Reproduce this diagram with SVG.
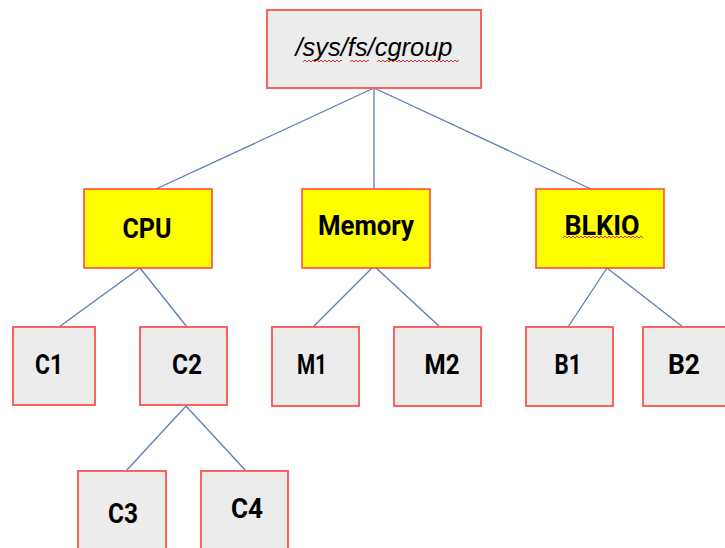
<svg xmlns="http://www.w3.org/2000/svg" width="725" height="548" viewBox="0 0 725 548">
<style>
.g{fill:#ececec;stroke:#ff6060;stroke-width:2}
.y{fill:#ffff00;stroke:#ff4040;stroke-width:1.5}
.t{font-family:Roboto,"Liberation Sans",sans-serif;font-weight:700;font-size:28px;fill:#000;text-anchor:middle}
.r{font-family:"Liberation Sans",Arial,sans-serif;font-style:italic;font-size:26px;fill:#000;text-anchor:middle}
.sq{fill:none;stroke:#e03030;stroke-width:1}
#edges line{stroke:#5b7db5;stroke-width:1.3}
</style>
<g id="edges">
<line x1="374" y1="88" x2="156" y2="189"/>
<line x1="374" y1="88" x2="374" y2="189"/>
<line x1="374" y1="88" x2="591" y2="189"/>
<line x1="140" y1="268" x2="59" y2="327"/>
<line x1="140" y1="268" x2="187" y2="327"/>
<line x1="374" y1="266" x2="313" y2="327"/>
<line x1="374" y1="266" x2="440" y2="327"/>
<line x1="607" y1="268" x2="568" y2="327"/>
<line x1="607" y1="268" x2="683" y2="327"/>
<line x1="186" y1="406" x2="126" y2="471"/>
<line x1="186" y1="406" x2="246" y2="471"/>
</g>
<g id="root">
<rect class="g" x="267" y="10" width="214" height="78"/>
<text class="r" x="374" y="56" textLength="157" lengthAdjust="spacingAndGlyphs">/sys/fs/cgroup</text>
<path class="sq" d="M303 62 l2 -2 l2 2 l2 -2 l2 2 l2 -2 l2 2 l2 -2 l2 2 l2 -2 l2 2 l2 -2 l2 2 l2 -2 l2 2 l2 -2 l2 2 l2 -2 l2 2 l2 -2 l1 1"/>
<path class="sq" d="M350 62 l2 -2 l2 2 l2 -2 l2 2 l2 -2 l2 2 l2 -2 l2 2 l2 -2 l1 1"/>
<path class="sq" d="M377 62 l2 -2 l2 2 l2 -2 l2 2 l2 -2 l2 2 l2 -2 l2 2 l2 -2 l2 2 l2 -2 l2 2 l2 -2 l2 2 l2 -2 l2 2 l2 -2 l2 2 l2 -2 l2 2 l2 -2 l2 2 l2 -2 l2 2 l2 -2 l2 2 l2 -2 l2 2 l2 -2 l2 2 l2 -2 l2 2 l2 -2 l2 2 l2 -2 l2 2 l2 -2 l2 2 l2 -2 l2 2 l2 -2"/>
</g>
<g id="cpu">
<rect class="y" x="84" y="189" width="128" height="79"/>
<text class="t" x="147" y="238" textLength="49" lengthAdjust="spacingAndGlyphs">CPU</text>
</g>
<g id="memory">
<rect class="y" x="302" y="189" width="128" height="79"/>
<text class="t" x="366" y="235" textLength="96" lengthAdjust="spacingAndGlyphs">Memory</text>
</g>
<g id="blkio">
<rect class="y" x="536" y="189" width="128" height="79"/>
<text class="t" x="602" y="235" textLength="75" lengthAdjust="spacingAndGlyphs">BLKIO</text>
<path class="sq" d="M563 238 l2 -2 l2 2 l2 -2 l2 2 l2 -2 l2 2 l2 -2 l2 2 l2 -2 l2 2 l2 -2 l2 2 l2 -2 l2 2 l2 -2 l2 2 l2 -2 l2 2 l2 -2 l2 2 l2 -2 l2 2 l2 -2 l2 2 l2 -2 l2 2 l2 -2 l2 2 l2 -2 l2 2 l2 -2 l2 2 l2 -2 l2 2 l2 -2 l2 2 l2 -2 l2 2 l2 -2 l2 2"/>
</g>
<g id="c1">
<rect class="g" x="13" y="327" width="82" height="78"/>
<text class="t" x="49" y="374" textLength="28" lengthAdjust="spacingAndGlyphs">C1</text>
</g>
<g id="c2">
<rect class="g" x="140" y="327" width="87" height="78"/>
<text class="t" x="187" y="374" textLength="30" lengthAdjust="spacingAndGlyphs">C2</text>
</g>
<g id="m1">
<rect class="g" x="272" y="327" width="87" height="79"/>
<text class="t" x="312" y="374" textLength="30" lengthAdjust="spacingAndGlyphs">M1</text>
</g>
<g id="m2">
<rect class="g" x="394" y="327" width="87" height="79"/>
<text class="t" x="442" y="374" textLength="35" lengthAdjust="spacingAndGlyphs">M2</text>
</g>
<g id="b1">
<rect class="g" x="526" y="327" width="87" height="79"/>
<text class="t" x="568" y="374" textLength="27" lengthAdjust="spacingAndGlyphs">B1</text>
</g>
<g id="b2">
<rect class="g" x="643" y="327" width="87" height="79"/>
<text class="t" x="684" y="374" textLength="32" lengthAdjust="spacingAndGlyphs">B2</text>
</g>
<g id="c3">
<rect class="g" x="78" y="471" width="88" height="85"/>
<text class="t" x="123" y="523" textLength="30" lengthAdjust="spacingAndGlyphs">C3</text>
</g>
<g id="c4">
<rect class="g" x="201" y="471" width="87" height="85"/>
<text class="t" x="247" y="518" textLength="32" lengthAdjust="spacingAndGlyphs">C4</text>
</g>
</svg>
